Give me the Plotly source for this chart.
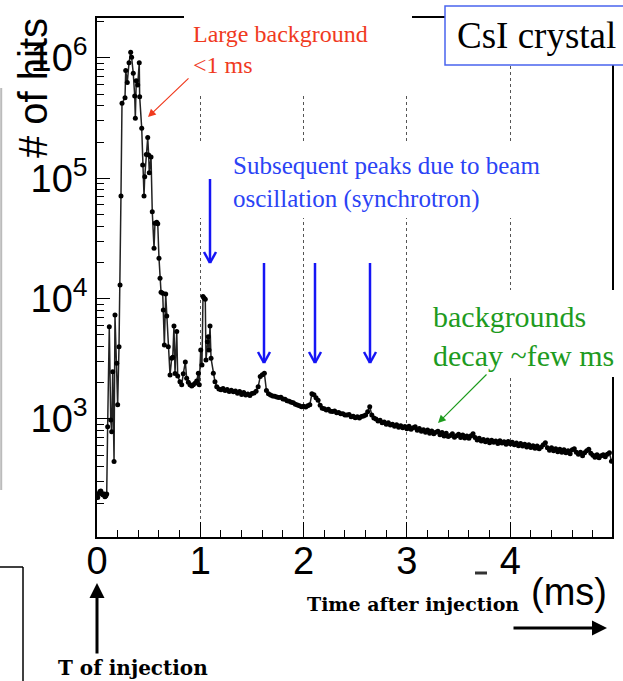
import numpy as np
import plotly.graph_objects as go

# ---------------- data ----------------
t_early = [0.007, 0.018, 0.029, 0.037, 0.045, 0.053, 0.061, 0.069, 0.077, 0.086, 0.094,
           0.103, 0.119, 0.133, 0.142, 0.152, 0.165, 0.174, 0.191, 0.200, 0.213, 0.223,
           0.232, 0.242, 0.271, 0.278, 0.293, 0.310, 0.326, 0.335, 0.351, 0.365, 0.371,
           0.380, 0.394, 0.409, 0.413, 0.433, 0.442, 0.455, 0.462, 0.477, 0.491, 0.500,
           0.506, 0.523, 0.535, 0.552, 0.561, 0.578, 0.588, 0.600, 0.610, 0.620, 0.636,
           0.642, 0.652, 0.665, 0.675, 0.690, 0.707, 0.723, 0.733, 0.745, 0.755, 0.772,
           0.781, 0.803, 0.820, 0.835, 0.855, 0.868, 0.884, 0.900, 0.917, 0.932, 0.949,
           0.965, 0.981, 0.990, 1.004, 1.016, 1.026, 1.036, 1.048, 1.055, 1.068, 1.077,
           1.084, 1.094, 1.104, 1.126, 1.142, 1.159]
hits_early = [222, 240, 249, 252, 241, 236, 233, 238, 226, 230, 238,
              863, 5850, 982, 783, 2470, 442, 7310, 2900, 1310, 3990, 13000,
              71300, 421000, 466000, 785000, 624000, 914000, 1114000, 1014000, 746000, 483000, 315000,
              647000, 597000, 914000, 477000, 260000, 129000, 71300, 103000, 158000, 218000, 156000,
              111000, 150000, 52800, 26200, 42300, 43100, 41800, 21700, 14800, 11300, 11100,
              8060, 4120, 10900, 7180, 3990, 2320, 3190, 3260, 5930, 2390, 5320,
              2280, 2040, 1920, 2370, 2980, 2180, 2020, 1920, 1880, 1920, 1980,
              2070, 2400, 1920, 3740, 2810, 10400, 10100, 9890, 3090, 4390, 4830,
              3740, 5930, 3190, 2400, 2040, 1850]

tail_start = 1.18   # ms, first tail bin centre
tail_step = 0.02    # ms, bin width of the tail
hits_tail = [1770, 1745, 1795, 1720, 1760, 1690, 1730, 1680, 1710, 1635,
             1690, 1600, 1655, 1585, 1610, 1570, 1630, 1640, 1700, 1850,
             2250, 2330, 2400, 1720, 1620, 1580, 1555, 1545, 1520, 1505,
             1515, 1465, 1455, 1415, 1405, 1375, 1365, 1325, 1305, 1285,
             1265, 1275, 1255, 1285, 1310, 1620, 1590, 1500, 1430, 1300,
             1230, 1215, 1185, 1205, 1160, 1155, 1165, 1125, 1130, 1105,
             1105, 1080, 1080, 1090, 1045, 1055, 1025, 1045, 1020, 1050,
             1060, 1080, 1150, 1265, 1080, 1020, 1000, 960, 975, 930,
             945, 905, 930, 890, 905, 870, 895, 855, 880, 845,
             865, 830, 870, 820, 845, 860, 805, 835, 790, 815,
             775, 810, 760, 795, 755, 775, 790, 740, 770, 720,
             760, 715, 730, 755, 705, 725, 745, 700, 735, 695,
             720, 690, 725, 755, 700, 670, 690, 655, 675, 645,
             670, 635, 665, 640, 655, 625, 660, 630, 645, 615,
             650, 620, 640, 610, 630, 600, 625, 595, 615, 585,
             610, 580, 600, 570, 595, 565, 585, 610, 635, 575,
             550, 575, 545, 565, 535, 560, 530, 555, 525, 545,
             515, 555, 565, 530, 510, 530, 495, 525, 545, 560,
             520, 500, 480, 505, 475, 495, 505, 485, 510, 525,
             445]

t_tail = [round(tail_start + tail_step * i, 3) for i in range(len(hits_tail))]
t_all = t_early + t_tail
hits_all = hits_early + hits_tail

x_ticks = [0, 1, 2, 3, 4]
y_ticks = [1e3, 1e4, 1e5, 1e6]
y_ticktext = ["10<sup>3</sup>", "10<sup>4</sup>", "10<sup>5</sup>", "10<sup>6</sup>"]

# ---------------- figure ----------------
W, H = 623, 681


def px(x):
    return x / W


def py(y):
    return 1 - y / H


fig = go.Figure()
fig.add_trace(go.Scatter(
    x=t_all, y=hits_all, mode="lines+markers",
    line=dict(color="#222222", width=1.5),
    marker=dict(color="black", size=5, symbol="circle"),
    showlegend=False, hoverinfo="skip"))

sans = "Liberation Sans, Arial, sans-serif"
serif = "Liberation Serif, Times New Roman, serif"
bserif = "DejaVu Serif, serif"

minor_y = [m * 10 ** e for e in range(2, 7) for m in range(2, 10)]

fig.update_layout(
    width=W, height=H,
    margin=dict(l=0, r=0, t=0, b=0),
    paper_bgcolor="white", plot_bgcolor="white",
    xaxis=dict(
        domain=[px(97), px(612)], range=[0, 4.985], automargin=False,
        showline=True, linecolor="black", linewidth=1.5, mirror=True,
        ticks="inside", ticklen=15, tickwidth=1.2, tickcolor="black",
        tickvals=x_ticks, ticktext=[str(v) for v in x_ticks],
        tickfont=dict(family=sans, size=38, color="black"),
        ticklabelstandoff=-10,
        showgrid=True, gridcolor="#555555", gridwidth=1, griddash="dot",
        zeroline=False,
        minor=dict(ticks="inside", ticklen=7, tickwidth=1, tickcolor="black",
                   dtick=0.2, tick0=0, showgrid=False),
    ),
    yaxis=dict(
        type="log", domain=[py(537), py(18)], range=[2.019, 6.332], automargin=False,
        showline=True, linecolor="black", linewidth=1.5, mirror=True,
        ticks="inside", ticklen=13, tickwidth=1.2, tickcolor="black",
        tickvals=y_ticks, ticktext=y_ticktext,
        tickfont=dict(family=sans, size=38, color="black"),
        showgrid=False, zeroline=False,
        minor=dict(ticks="inside", ticklen=7, tickwidth=1, tickcolor="black",
                   tickvals=minor_y, showgrid=False),
    ),
)

shapes = []


def seg(x0, y0, x1, y1, color, width):
    shapes.append(dict(type="line", xref="paper", yref="paper",
                       x0=px(x0), y0=py(y0), x1=px(x1), y1=py(y1),
                       line=dict(color=color, width=width), layer="above"))


def box(x0, y0, x1, y1, border=None):
    shapes.append(dict(type="rect", xref="paper", yref="paper",
                       x0=px(x0), y0=py(y0), x1=px(x1), y1=py(y1),
                       fillcolor="white",
                       line=dict(color=border if border else "rgba(0,0,0,0)",
                                 width=1.5 if border else 0),
                       layer="above"))


# white text boxes of the slide overlays
box(184, -2, 412, 96)
box(192, 143, 560, 218)
box(422, 290, 625, 377)
box(445, 6, 626, 65, border="#4a64ee")

# slide artifacts
seg(1.2, 88, 1.2, 490, "#bbbbbb", 2)
seg(0, 567, 23, 567, "black", 1.5)
seg(23, 567, 23, 681, "black", 1.5)
seg(475, 573, 487, 573, "#333333", 3)

# blue down arrows
blue = "#1515f5"
for (xa, ytop, ytip) in [(210, 179, 263), (264, 263, 363), (315, 263, 363), (370, 263, 363)]:
    seg(xa, ytop, xa, ytip, blue, 2.5)
    seg(xa - 6, ytip - 11, xa, ytip, blue, 2.5)
    seg(xa + 6, ytip - 11, xa, ytip, blue, 2.5)

fig.update_layout(shapes=shapes)

ann = []


def text(x, y, s, size, color="black", family=serif, xanchor="left", angle=0):
    ann.append(dict(x=px(x), y=py(y), xref="paper", yref="paper", text=s,
                    showarrow=False, xanchor=xanchor, yanchor="middle",
                    align="left", textangle=angle,
                    font=dict(family=family, size=size, color=color)))


def arrow(xt, yt, xs, ys, color, width, size=1.0, head=2):
    ann.append(dict(x=px(xt), y=py(yt), xref="paper", yref="paper", text="",
                    showarrow=True, ax=xs - xt, ay=ys - yt, axref="pixel", ayref="pixel",
                    arrowcolor=color, arrowwidth=width, arrowhead=head,
                    arrowsize=size, standoff=0, startstandoff=0))


text(191, 49, "Large background<br>&lt;1 ms", 24, "#f03a1e")
text(231, 182, "Subsequent peaks due to beam<br>oscillation (synchrotron)", 25, "#2b43f5")
text(431, 336, "backgrounds<br>decay ~few ms", 30, "#1e9b1e")
text(536, 36, "CsI crystal", 37, "black", xanchor="center")
text(33, 88, "# of hits", 40, "black", family=sans, xanchor="center", angle=-90)
text(569, 592, "(ms)", 38, "black", family=sans, xanchor="center")
text(413, 604, "<b>Time after injection</b>", 19, "black", family=bserif, xanchor="center")
text(133, 668, "<b>T of injection</b>", 20, "black", family=bserif, xanchor="center")

arrow(148, 117, 190, 77, "#f03a1e", 1.2, 1.3)
arrow(438, 423, 488, 373, "#1e9b1e", 1.2, 1.3)
arrow(607, 628, 512, 628, "black", 3, 1.0)
arrow(97, 583, 97, 655, "black", 3, 1.0)

fig.update_layout(annotations=ann)

fig.write_html("out.html")
